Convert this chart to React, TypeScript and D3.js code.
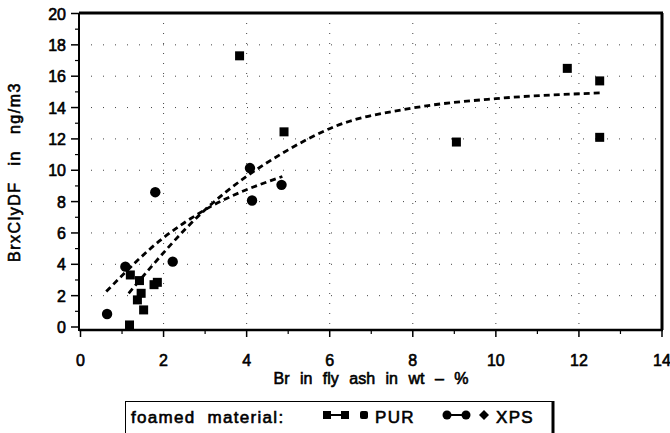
import React from "react";
import * as d3 from "d3";

const purX = [3.83, 4.9, 9.05, 11.72, 12.5, 12.5, 1.18, 1.2, 1.42, 1.46, 1.37, 1.52, 1.77, 1.85];
const purY = [17.3, 12.45, 11.8, 16.5, 15.7, 12.1, 0.13, 3.32, 2.96, 2.15, 1.73, 1.09, 2.7, 2.85];
const xpsX = [0.64, 1.08, 1.8, 2.22, 4.08, 4.13, 4.84];
const xpsY = [0.83, 3.85, 8.6, 4.17, 10.14, 8.07, 9.07];

const purFitX = [1.16, 3.0, 5.0, 6.13, 8.0, 10.0, 12.5];
const purFitY = [2.15, 7.48, 11.3, 12.8, 13.97, 14.57, 14.93];
const xpsFitX = [0.62, 2.0, 3.0, 4.86];
const xpsFitY = [2.26, 5.7, 7.48, 9.6];

const xTicks = [0, 2, 4, 6, 8, 10, 12, 14];
const yTicks = [0, 2, 4, 6, 8, 10, 12, 14, 16, 18, 20];
const xMinor = [1, 3, 5, 7, 9, 11, 13];
const yMinor = [1, 3, 5, 7, 9, 11, 13, 15, 17, 19];
const xGrid = [2, 4, 6, 8, 10, 12];
const yGrid = [2, 4, 6, 8, 10, 12, 14, 16, 18];

const FONT = "'Liberation Sans', Arial, sans-serif";

export default function App() {
  const x = d3.scaleLinear().domain([0, 14]).range([80.5, 662]);
  const y = d3.scaleLinear().domain([0, 20]).range([327, 13.5]);
  const left = 79, right = 662, top = 13, bottom = 330;

  const line = d3
    .line<[number, number]>()
    .x((d) => x(d[0]))
    .y((d) => y(d[1]))
    .curve(d3.curveMonotoneX);
  const purPath = line(purFitX.map((v, i) => [v, purFitY[i]]) as [number, number][]) || "";
  const xpsPath = line(xpsFitX.map((v, i) => [v, xpsFitY[i]]) as [number, number][]) || "";

  const textStyle = { fontFamily: FONT, fill: "#000", stroke: "#000", strokeWidth: 0.6 };

  return (
    <svg
      width={670}
      height={433}
      style={{ position: "absolute", left: 0, top: 0, background: "#fff" }}
    >
      {/* grid */}
      {xGrid.map((v) => (
        <line key={"gx" + v} x1={x(v)} x2={x(v)} y1={top} y2={bottom}
          stroke="#444" strokeWidth={1} strokeDasharray="1 9" />
      ))}
      {yGrid.map((v) => (
        <line key={"gy" + v} x1={left} x2={right} y1={y(v)} y2={y(v)}
          stroke="#444" strokeWidth={1} strokeDasharray="1 11" />
      ))}

      {/* frame */}
      <line x1={left} x2={right + 1} y1={top} y2={top} stroke="#000" strokeWidth={3} />
      <line x1={right} x2={right} y1={top} y2={bottom} stroke="#000" strokeWidth={3} />
      <line x1={left} x2={left} y1={top} y2={bottom + 1} stroke="#000" strokeWidth={2} />
      <line x1={left} x2={right + 1} y1={bottom} y2={bottom} stroke="#000" strokeWidth={2.5} />

      {/* y ticks */}
      {yTicks.map((v) => (
        <g key={"yt" + v}>
          <line x1={left - 8} x2={left} y1={y(v)} y2={y(v)} stroke="#000" strokeWidth={1.5} />
          <text x={left - 13} y={y(v) + 6} fontSize={16} textAnchor="end" style={textStyle}>
            {v}
          </text>
        </g>
      ))}
      {yMinor.map((v) => (
        <line key={"ym" + v} x1={left - 4} x2={left} y1={y(v)} y2={y(v)} stroke="#000" strokeWidth={1.2} />
      ))}

      {/* x ticks */}
      {xTicks.map((v) => (
        <g key={"xt" + v}>
          <line x1={x(v)} x2={x(v)} y1={bottom} y2={bottom + 7} stroke="#000" strokeWidth={1.5} />
          <text x={x(v)} y={366} fontSize={16} textAnchor="middle" style={textStyle}>
            {v}
          </text>
        </g>
      ))}
      {xMinor.map((v) => (
        <line key={"xm" + v} x1={x(v)} x2={x(v)} y1={bottom} y2={bottom + 4} stroke="#000" strokeWidth={1.2} />
      ))}

      {/* axis titles */}
      <text x={371} y={384} fontSize={16} textAnchor="middle" wordSpacing={6} style={textStyle}>
        Br in fly ash in wt – %
      </text>
      <text
        transform={`translate(20,172) rotate(-90)`}
        fontSize={16}
        textAnchor="middle"
        wordSpacing={10}
        letterSpacing={1.5}
        style={textStyle}
      >
        BrxClyDF in ng/m3
      </text>

      {/* fit curves */}
      <path d={purPath} fill="none" stroke="#000" strokeWidth={2.8} strokeDasharray="6 4" />
      <path d={xpsPath} fill="none" stroke="#000" strokeWidth={2.8} strokeDasharray="6 4" />

      {/* points */}
      {purX.map((v, i) => (
        <rect key={"p" + i} x={x(v) - 4.5} y={y(purY[i]) - 4.5} width={9} height={9} fill="#000" />
      ))}
      {xpsX.map((v, i) => (
        <circle key={"c" + i} cx={x(v)} cy={y(xpsY[i])} r={5.2} fill="#000" />
      ))}

      {/* legend */}
      <rect x={125.5} y={401.5} width={427} height={40} fill="none" stroke="#000" strokeWidth={1} />
      <line x1={553} x2={553} y1={401} y2={433} stroke="#000" strokeWidth={3} />
      <text x={131} y={423} fontSize={17} wordSpacing={6} letterSpacing={1.3} style={textStyle}>
        foamed material:
      </text>
      <rect x={323} y={411} width={8} height={8} fill="#000" />
      <line x1={331} x2={342} y1={415} y2={415} stroke="#000" strokeWidth={2} />
      <rect x={341} y={411} width={8} height={8} fill="#000" />
      <rect x={360} y={411} width={8} height={8} rx={2} fill="#000" />
      <text x={375} y={423} fontSize={17} letterSpacing={1.3} style={textStyle}>PUR</text>
      <circle cx={447} cy={415} r={4.5} fill="#000" />
      <line x1={451} x2={462} y1={415} y2={415} stroke="#000" strokeWidth={2} />
      <circle cx={466} cy={415} r={4.5} fill="#000" />
      <path d="M484,410 L489,415 L484,420 L479,415 Z" fill="#000" />
      <text x={496} y={423} fontSize={17} letterSpacing={1.3} style={textStyle}>XPS</text>
    </svg>
  );
}
